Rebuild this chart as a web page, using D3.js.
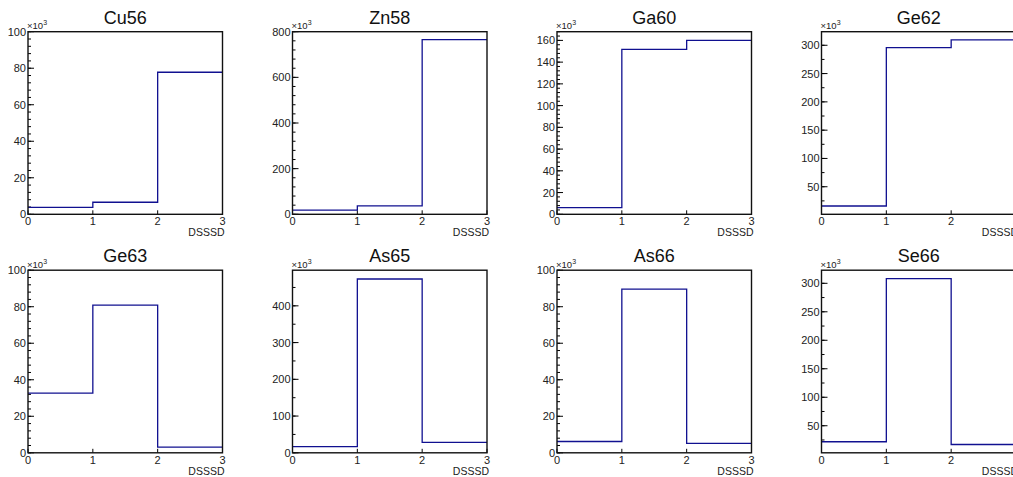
<!DOCTYPE html>
<html>
<head>
<meta charset="utf-8">
<script src="https://cdn.jsdelivr.net/npm/d3@7/dist/d3.min.js"></script>
<style>
  html, body { margin: 0; padding: 0; background: #fff; }
  svg { display: block; font-family: "Liberation Sans", Arial, Helvetica, sans-serif; }
</style>
</head>
<body>
<svg id="chart" width="1013" height="477"></svg>
<script>
// ---- data (counts in units of 10^3) ----
const titles   = ["Cu56", "Zn58", "Ga60", "Ge62", "Ge63", "As65", "As66", "Se66"];
const binEdges = [0, 1, 2, 3];
const xTickLabels = ["0", "1", "2", "3"];
const xTitle = "DSSSD";
const bin0 = [3.8, 18, 6.2, 16, 32.7, 16.8, 6.2, 21.9];
const bin1 = [6.6, 36.5, 151.7, 296, 80.9, 473, 89.6, 308.2];
const bin2 = [77.8, 765, 160, 309.4, 3.1, 28.5, 5.2, 17.1];
const yMin = [0, 0, 0, 1.3, 0, 0, 0, 2.5];
const yMax = [100, 800, 168, 324, 100, 497, 100, 323];
const yMajorStep = [20, 200, 20, 50, 20, 100, 20, 50];
const yMinorStep = [4, 40, 4, 25, 4, 50, 4, 25];

// ---- layout ----
const svg = d3.select("#chart");
const padW = 264.5, padH = 238.5;
const frameL = 28, frameW = 194.5, frameT = 31.7, frameH = 182.6;
const lineColor = "#101090";

titles.forEach((title, i) => {
  const col = i % 4, row = Math.floor(i / 4);
  const left = col * padW + frameL;
  const top = row * padH + frameT;
  const g = svg.append("g");

  const x = d3.scaleLinear().domain([binEdges[0], binEdges[3]]).range([left, left + frameW]);
  const y = d3.scaleLinear().domain([yMin[i], yMax[i]]).range([top + frameH, top]);

  // minor y ticks
  const minors = d3.range(Math.ceil(yMin[i] / yMinorStep[i]) * yMinorStep[i], yMax[i] + 1e-9, yMinorStep[i]);
  g.selectAll(".ymin").data(minors).enter().append("line")
    .attr("x1", left).attr("x2", left + 3)
    .attr("y1", d => y(d)).attr("y2", d => y(d))
    .attr("stroke", "#000").attr("stroke-width", 1);
  // major y ticks
  const majors = d3.range(Math.ceil((yMin[i] - 1e-9) / yMajorStep[i]) * yMajorStep[i], yMax[i] + 1e-9, yMajorStep[i]);
  g.selectAll(".ymaj").data(majors).enter().append("line")
    .attr("x1", left).attr("x2", left + 6)
    .attr("y1", d => y(d)).attr("y2", d => y(d))
    .attr("stroke", "#000").attr("stroke-width", 1);
  g.selectAll(".ylab").data(majors).enter().append("text")
    .attr("x", left - 2).attr("y", d => y(d))
    .attr("dy", "0.36em")
    .attr("text-anchor", "end")
    .attr("font-size", 11).attr("fill", "#222")
    .text(d => d3.format("d")(d));

  // x ticks
  g.selectAll(".xt").data(binEdges).enter().append("line")
    .attr("x1", d => x(d)).attr("x2", d => x(d))
    .attr("y1", top + frameH).attr("y2", top + frameH - 4)
    .attr("stroke", "#000").attr("stroke-width", 1);
  g.selectAll(".xlab").data(binEdges).enter().append("text")
    .attr("x", d => x(d)).attr("y", top + frameH + 11)
    .attr("text-anchor", "middle")
    .attr("font-size", 11).attr("fill", "#222")
    .text((d, k) => xTickLabels[k]);

  // x title
  g.append("text")
    .attr("x", left + frameW + 2).attr("y", top + frameH + 22)
    .attr("text-anchor", "end")
    .attr("font-size", 10.5).attr("fill", "#222")
    .text(xTitle);

  // exponent label
  const ex = g.append("text")
    .attr("x", left - 1).attr("y", top - 2.5)
    .attr("font-size", 9.5).attr("fill", "#222");
  ex.append("tspan").text("\u00d710");
  ex.append("tspan").attr("font-size", 7).attr("dy", -4).text("3");

  // title
  g.append("text")
    .attr("x", left + frameW / 2).attr("y", row * padH + 23.5)
    .attr("text-anchor", "middle")
    .attr("font-size", 18).attr("fill", "#111")
    .text(title);

  // histogram step line
  const vals = [bin0[i], bin1[i], bin2[i]];
  const pts = [];
  vals.forEach((v, k) => {
    pts.push([x(binEdges[k]), y(v)]);
    pts.push([x(binEdges[k + 1]), y(v)]);
  });
  g.append("path")
    .attr("d", d3.line()(pts))
    .attr("fill", "none")
    .attr("stroke", lineColor)
    .attr("stroke-width", 1.3);

  // frame
  g.append("rect")
    .attr("x", left).attr("y", top)
    .attr("width", frameW).attr("height", frameH)
    .attr("fill", "none").attr("stroke", "#111").attr("stroke-width", 1.4);
});
</script>
</body>
</html>
